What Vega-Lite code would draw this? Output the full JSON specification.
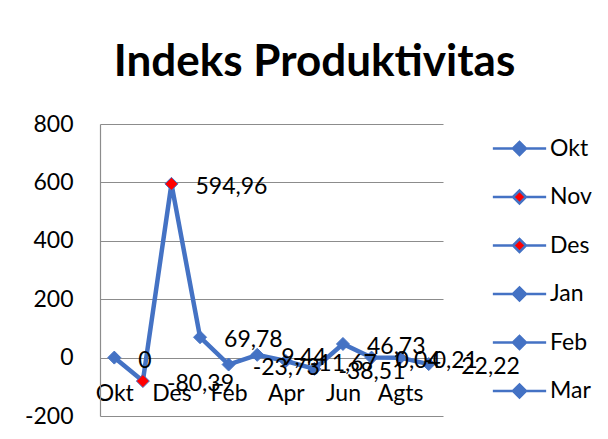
{
  "$schema": "https://vega.github.io/schema/vega-lite/v6.json",
  "width": 343,
  "height": 292,
  "autosize": {"type": "none"},
  "padding": {"left": 100, "top": 124, "right": 165, "bottom": 23},
  "background": "white",
  "title": {
    "text": "Indeks Produktivitas",
    "font": "Lato",
    "fontSize": 44,
    "fontWeight": "bold",
    "color": "#000000",
    "anchor": "middle",
    "dx": 43,
    "offset": -7,
    "baseline": "alphabetic"
  },
  "config": {
    "view": {"stroke": null},
    "font": "Lato",
    "locale": {
      "number": {"decimal": ",", "thousands": ".", "grouping": [3], "currency": ["", ""], "minus": "-"}
    }
  },
  "data": {
    "values": [
      {"bulan": "Okt", "nilai": 0},
      {"bulan": "Nov", "nilai": -80.39},
      {"bulan": "Des", "nilai": 594.96},
      {"bulan": "Jan", "nilai": 69.78},
      {"bulan": "Feb", "nilai": -23.73},
      {"bulan": "Mar", "nilai": 9.44},
      {"bulan": "Apr", "nilai": -11.67},
      {"bulan": "Mei", "nilai": -38.51},
      {"bulan": "Jun", "nilai": 46.73},
      {"bulan": "Jul", "nilai": 0.04},
      {"bulan": "Agts", "nilai": -0.21},
      {"bulan": "Sep", "nilai": -22.22}
    ]
  },
  "encoding": {
    "x": {
      "field": "bulan",
      "type": "nominal",
      "sort": null,
      "scale": {"type": "point", "padding": 0.5},
      "axis": {
        "title": null,
        "values": ["Okt", "Des", "Feb", "Apr", "Jun", "Agts"],
        "offset": -58,
        "domain": false,
        "ticks": false,
        "grid": false,
        "labelAngle": 0,
        "labelFont": "Lato",
        "labelFontSize": 23,
        "labelColor": "#000000",
        "labelPadding": 24
      }
    },
    "y": {
      "field": "nilai",
      "type": "quantitative",
      "scale": {"domain": [-200, 800], "nice": false, "zero": false},
      "axis": {
        "title": null,
        "values": [-200, 0, 200, 400, 600, 800],
        "grid": true,
        "gridColor": "#8c8c8c",
        "gridWidth": 1.2,
        "domain": true,
        "domainColor": "#8c8c8c",
        "domainWidth": 1.2,
        "ticks": false,
        "labelFont": "Lato",
        "labelFontSize": 23,
        "labelColor": "#000000",
        "labelPadding": 27
      }
    }
  },
  "layer": [
    {
      "mark": {"type": "line", "color": "#4472C4", "strokeWidth": 4.5},
      "encoding": {}
    },
    {
      "mark": {"type": "point", "shape": "diamond", "filled": true, "size": 169, "stroke": "#4472C4", "strokeWidth": 1, "opacity": 1},
      "encoding": {
        "fill": {
          "field": "bulan",
          "type": "nominal",
          "sort": null,
          "scale": {
            "domain": ["Okt", "Nov", "Des", "Jan", "Feb", "Mar", "Apr", "Mei", "Jun", "Jul", "Agts", "Sep"],
            "range": ["#4472C4", "#FF0000", "#FF0000", "#4472C4", "#4472C4", "#4472C4", "#4472C4", "#4472C4", "#4472C4", "#4472C4", "#4472C4", "#4472C4"]
          },
          "legend": {
            "orient": "none",
            "legendX": 408,
            "legendY": 13,
            "title": null,
            "values": ["Okt", "Nov", "Des", "Jan", "Feb", "Mar"],
            "symbolType": "M-4.1,0H-1M1,0H4.1M-1,0L0,-1L1,0L0,1Z",
            "symbolSize": 169,
            "symbolStrokeColor": "#4472C4",
            "symbolStrokeWidth": 2.5,
            "labelFont": "Lato",
            "labelFontSize": 23,
            "labelColor": "#000000",
            "labelOffset": 19,
            "rowPadding": 24.5,
            "padding": 0,
            "encode": {"symbols": {"update": {"strokeWidth": {"value": 2.5}, "stroke": {"value": "#4472C4"}, "opacity": {"value": 1}}}}
          }
        }
      }
    },
    {
      "mark": {"type": "text", "align": "left", "baseline": "middle", "dx": 24, "dy": 3, "font": "Lato", "fontSize": 23, "color": "#000000"},
      "encoding": {
        "text": {"field": "nilai", "type": "quantitative", "format": ".2~f"}
      }
    }
  ]
}
